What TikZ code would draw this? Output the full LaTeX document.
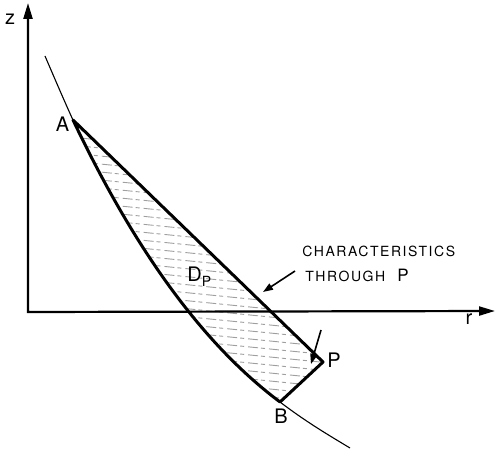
\documentclass[tikz,border=0pt]{standalone}
\usepackage{fontspec}
\setmainfont{TeX Gyre Heros}
\newfontfamily\spacedfont[LetterSpace=11]{TeX Gyre Heros}
\usetikzlibrary{arrows.meta}
\begin{document}
\begin{tikzpicture}[x=0.5pt,y=-0.5pt,
 axis/.style={line width=1.1pt,{Triangle[length=8pt,width=4.5pt]}-{Triangle[length=8pt,width=4.5pt]}},
 bound/.style={line width=1.5pt,line join=round},
 thincurve/.style={line width=0.55pt},
 hatch/.style={gray!75,line width=0.45pt,dash pattern=on 5pt off 1.5pt on 2pt off 2pt},
 lbl/.style={font=\fontsize{10}{11}\selectfont,inner sep=0pt},
 ptr/.style={line width=0.8pt,-{Triangle[length=5pt,width=3.5pt]}}]
\useasboundingbox (0,0) rectangle (496,453);
% points
\coordinate (O) at (28,312);
\coordinate (ztip) at (28,3);
\coordinate (rtip) at (495,311);
\coordinate (C0) at (45,56);
\coordinate (A) at (73,120);
\coordinate (B) at (280,402);
\coordinate (P) at (323,362);
\coordinate (C1) at (350,448);
% hatching of D_P
\begin{scope}
\clip (A) -- (P) -- (B) .. controls (200,342) and (133,246) .. (A) -- cycle;
\foreach \y in {96,104,...,460} \draw[hatch] (60,\y) -- (340,\y+28);
\end{scope}
% axes
\draw[axis] (ztip) -- (O) -- (rtip);
% initial curve
\draw[thincurve] (C0) .. controls (51,70) and (66,105) .. (A);
\draw[thincurve] (B) .. controls (305,421) and (325,433) .. (C1);
% domain of dependence
\draw[bound] (B) .. controls (200,342) and (133,246) .. (A) -- (P) -- cycle;
% pointers
\coordinate (t1) at (295,271);
\coordinate (t2) at (263,292);
\draw[ptr] (t1) -- (t2);
\coordinate (s1) at (321,330);
\coordinate (s2) at (311,364);
\draw[ptr] (s1) -- (s2);
% labels
\node[lbl] (zl) at (10,19) {z};
\node[lbl] (rl) at (469,319) {r};
\node[lbl] (Al) at (62.5,124) {A};
\node[lbl] (Bl) at (281,416) {B};
\node[lbl] (Pl) at (334,360) {P};
\node[lbl,anchor=base west] (Dl) at (187,282) {D\raisebox{-0.45ex}{\fontsize{7}{7}\selectfont P}};
\node[inner sep=0pt,anchor=base west,font=\fontsize{7}{8}\spacedfont] (ch) at (302,257) {CHARACTERISTICS};
\node[inner sep=0pt,anchor=base west,font=\fontsize{7}{8}\spacedfont] (th) at (305,282) {THROUGH};
\node[inner sep=0pt,anchor=base west,font=\fontsize{8.5}{9}\selectfont] (tp) at (397,282) {P};
\end{tikzpicture}
\end{document}
